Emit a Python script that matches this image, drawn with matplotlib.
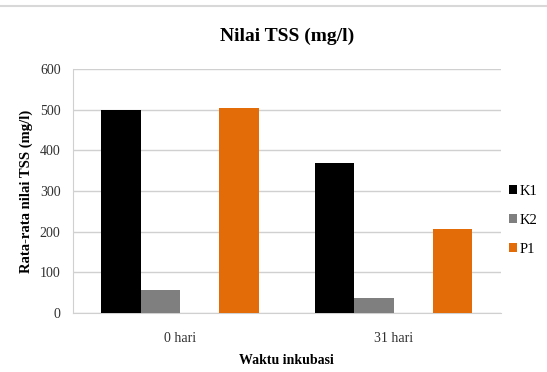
import numpy as np
import matplotlib.pyplot as plt

plt.rcParams['font.family'] = ['Liberation Serif', 'DejaVu Serif']

# TSS averages per incubation time
waktu = ['0 hari', '31 hari']
k1 = [499, 369]
k2 = [57, 37]
p1 = [504, 206]

fig = plt.figure(figsize=(5.47, 3.72), dpi=100)
ax = fig.add_axes([0.1335, 0.1586, 0.7815, 0.656])

x = np.arange(len(waktu))
w = 0.184
# four slots per group, third one left empty
ax.bar(x - 1.5 * w, k1, w, color='black', label='K1', zorder=3)
ax.bar(x - 0.5 * w, k2, w, color='#7f7f7f', label='K2', zorder=3)
ax.bar(x + 1.5 * w, p1, w, color='#e36c09', label='P1', zorder=3)

ax.set_xlim(-0.5, 1.5)
ax.set_ylim(0, 600)
ax.set_yticks(range(0, 601, 100))
ax.set_xticks(x)
ax.set_xticklabels(waktu)
ax.tick_params(length=0, labelsize=10, colors='#303030')
ax.tick_params(axis='x', pad=14)
ax.tick_params(axis='y', pad=9)
ax.yaxis.grid(True, color='#d0d0d0', linewidth=1, zorder=0)

for s in ['top', 'right']:
    ax.spines[s].set_visible(False)
ax.spines['left'].set_color('#d0d0d0')
ax.spines['bottom'].set_color('#d0d0d0')

ax.set_title('Nilai TSS (mg/l)', fontsize=14, fontweight='bold', pad=20)
ax.set_xlabel('Waktu inkubasi', fontsize=10, fontweight='bold', labelpad=6)
ax.set_ylabel('Rata-rata nilai TSS (mg/l)', fontsize=10.5, fontweight='bold', labelpad=5)

ax.legend(loc='center left', bbox_to_anchor=(1.0, 0.38), frameon=False,
          fontsize=10.5, handlelength=0.5, handleheight=0.6, handletextpad=0.2,
          labelspacing=1.1, borderaxespad=0.2)

# thin border line along the top of the figure
fig.add_artist(plt.Line2D([0, 1], [0.985, 0.985], color='#d8d8d8', linewidth=1.5))

fig.savefig('out.png', dpi=100)
